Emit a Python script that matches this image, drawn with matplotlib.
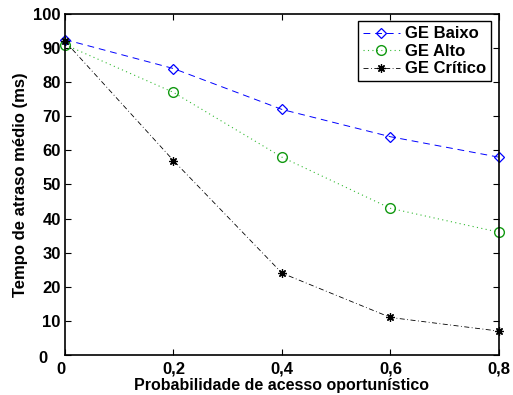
import matplotlib
matplotlib.use("Agg")
import matplotlib.pyplot as plt
import matplotlib.transforms as mtransforms
from matplotlib.font_manager import FontProperties

x = [0, 0.2, 0.4, 0.6, 0.8]
baixo = [92.5, 84, 72, 64, 58]
alto = [91, 77, 58, 43, 36]
critico = [92, 57, 24, 11, 7]
xticklabels = ["0", "0,2", "0,4", "0,6", "0,8"]
yticks = [0, 10, 20, 30, 40, 50, 60, 70, 80, 90, 100]

plt.rcParams['font.family'] = ['Liberation Sans', 'DejaVu Sans']
plt.rcParams['font.weight'] = 'bold'

fig = plt.figure(figsize=(5.13, 3.95), dpi=100)
ax = fig.add_axes([0.1267, 0.1013, 0.846, 0.8633])

ax.plot(x, baixo, linestyle=(0, (7, 5)), color='blue', marker='D', markersize=5.5,
        markerfacecolor='none', markeredgecolor='blue', markeredgewidth=0.9,
        linewidth=0.7, label='GE Baixo', clip_on=False)
ax.plot(x, alto, linestyle=(0, (1, 3)), color='#33bb33', marker='o', markersize=7,
        markerfacecolor='none', markeredgecolor='#119911', markeredgewidth=1.0,
        linewidth=0.8, label='GE Alto', clip_on=False)
ax.plot(x, critico, linestyle=(0, (6, 3, 1, 3)), color='black', marker=(8, 2, 0), markersize=6,
        markeredgewidth=0.9, linewidth=0.6, label='GE Crítico', clip_on=False)

ax.set_xlim(0, 0.8)
ax.set_ylim(0, 100)
ax.set_xticks(x)
ax.set_xticklabels(xticklabels)
ax.set_yticks(yticks)
ax.tick_params(direction='in', top=True, right=True, labelsize=12, length=4, width=0.8)
ax.tick_params(axis='y', pad=3)
ax.tick_params(axis='x', pad=5)
for lab in ax.get_xticklabels() + ax.get_yticklabels():
    lab.set_fontweight('bold')
# MATLAB-style offset of the zero labels
ylab0 = ax.get_yticklabels()[0]
ylab0.set_transform(ylab0.get_transform() + mtransforms.ScaledTranslation(-13/100, -2/100, fig.dpi_scale_trans))
xlab0 = ax.get_xticklabels()[0]
xlab0.set_transform(xlab0.get_transform() + mtransforms.ScaledTranslation(-4/100, 0, fig.dpi_scale_trans))
for s in ax.spines.values():
    s.set_linewidth(1.2)

ax.set_xlabel('Probabilidade de acesso oportunístico', fontsize=11.5, fontweight='bold', labelpad=1)
ax.set_ylabel('Tempo de atraso médio (ms)', fontsize=12, fontweight='bold', labelpad=4)

legfont = FontProperties(family='Liberation Sans', weight='bold', size=12)
leg = ax.legend(loc='upper right', prop=legfont, fancybox=False,
                framealpha=1, edgecolor='black', borderpad=0.3, labelspacing=0.15,
                handlelength=2.2, handletextpad=0.35, borderaxespad=0.45)
leg.get_frame().set_linewidth(1.0)

fig.savefig('out.png', dpi=100)
